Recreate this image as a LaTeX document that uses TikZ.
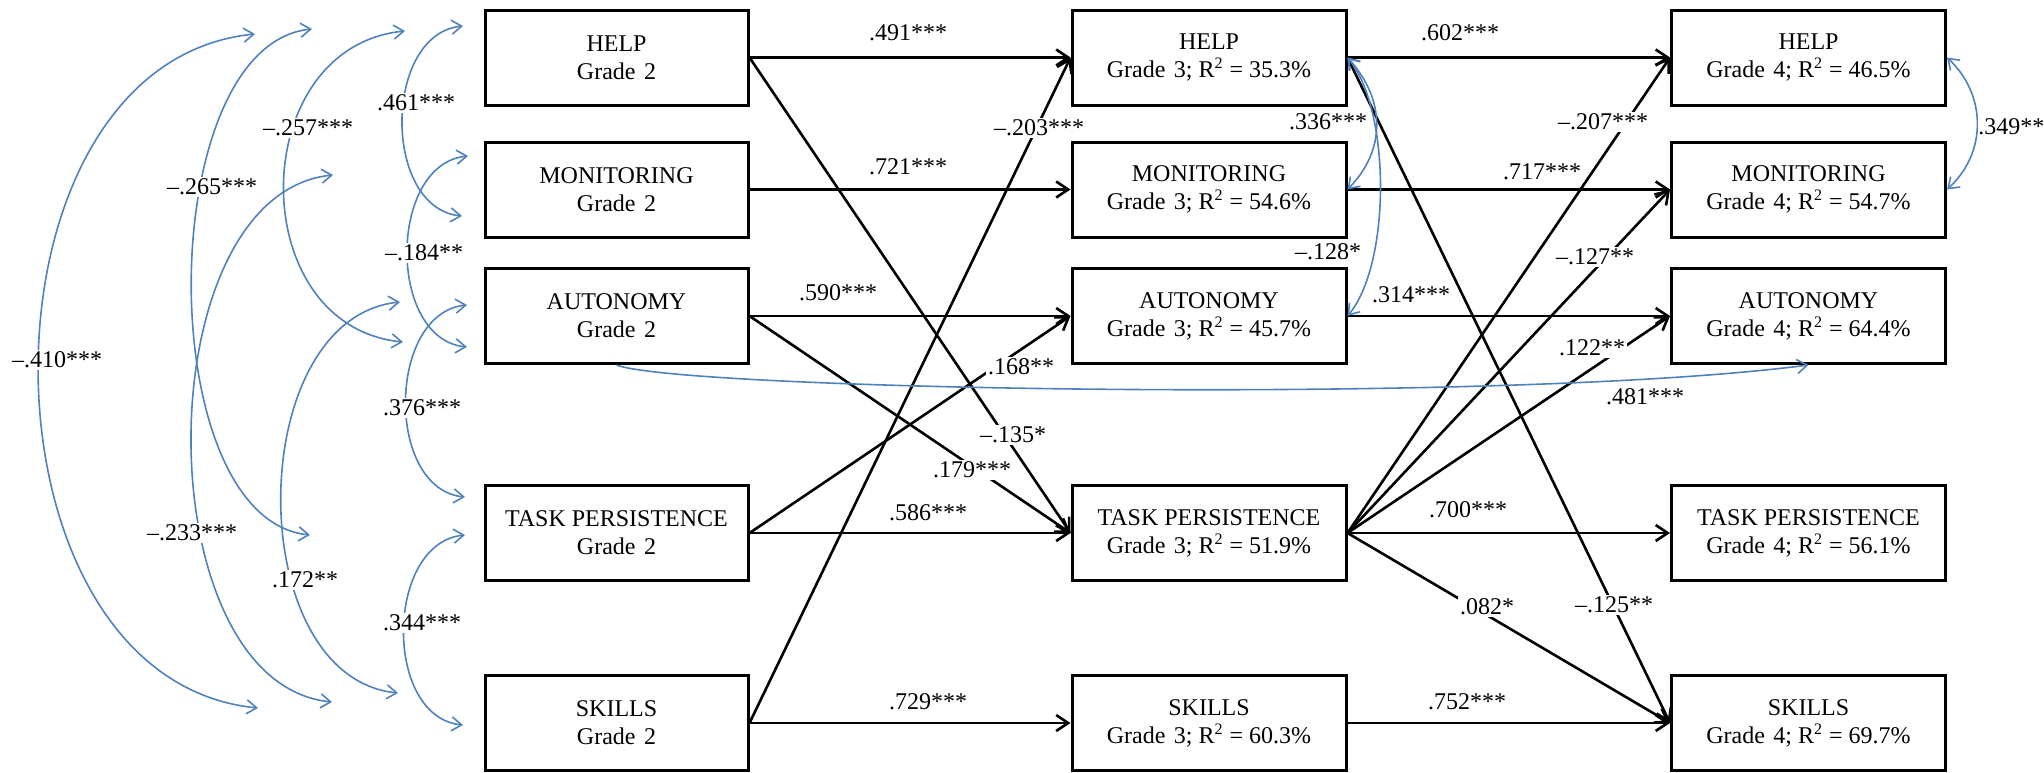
\documentclass[tikz,border=0pt]{standalone}
\usepackage{fontspec}
\setmainfont{Liberation Serif}
\usetikzlibrary{arrows.meta}
\definecolor{corblue}{RGB}{79,129,189}
\begin{document}
\begin{tikzpicture}[x=0.5pt,y=-0.5pt,
  box/.style={draw, line width=1.5pt, minimum height=47.5pt, align=center, inner sep=0pt, font=\fontsize{12}{14}\selectfont},
  gtwo/.style={box, minimum width=131.5pt},
  gthree/.style={box, minimum width=137pt},
  patharrow/.style={line width=1.3pt, -{Straight Barb[length=6pt,width=8pt]}},
  corr/.style={draw=corblue, line width=0.8pt, {Straight Barb[length=5pt,width=7pt]}-{Straight Barb[length=5pt,width=7pt]}},
  corrone/.style={draw=corblue, line width=0.8pt, -{Straight Barb[length=5pt,width=7pt]}},
  lab/.style={fill=white, inner sep=1pt, font=\fontsize{12}{14}\selectfont},
]
\useasboundingbox (0,0) rectangle (2044,772);

% ---- boxes ----
\node[gtwo] (h2) at (616.5,57.5) {HELP\\Grade\hspace{0.35em}2};
\node[gtwo] (m2) at (616.5,189.5) {MONITORING\\Grade\hspace{0.35em}2};
\node[gtwo] (a2) at (616.5,316) {AUTONOMY\\Grade\hspace{0.35em}2};
\node[gtwo] (t2) at (616.5,533) {TASK PERSISTENCE\\Grade\hspace{0.35em}2};
\node[gtwo] (s2) at (616.5,723) {SKILLS\\Grade\hspace{0.35em}2};

\node[gthree] (h3) at (1209,57.5) {HELP\\Grade\hspace{0.35em}3; R\textsuperscript{2} = 35.3\%};
\node[gthree] (m3) at (1209,189.5) {MONITORING\\Grade\hspace{0.35em}3; R\textsuperscript{2} = 54.6\%};
\node[gthree] (a3) at (1209,316) {AUTONOMY\\Grade\hspace{0.35em}3; R\textsuperscript{2} = 45.7\%};
\node[gthree] (t3) at (1209,533) {TASK PERSISTENCE\\Grade\hspace{0.35em}3; R\textsuperscript{2} = 51.9\%};
\node[gthree] (s3) at (1209,723) {SKILLS\\Grade\hspace{0.35em}3; R\textsuperscript{2} = 60.3\%};

\node[gthree] (h4) at (1808.5,57.5) {HELP\\Grade\hspace{0.35em}4; R\textsuperscript{2} = 46.5\%};
\node[gthree] (m4) at (1808.5,189.5) {MONITORING\\Grade\hspace{0.35em}4; R\textsuperscript{2} = 54.7\%};
\node[gthree] (a4) at (1808.5,316) {AUTONOMY\\Grade\hspace{0.35em}4; R\textsuperscript{2} = 64.4\%};
\node[gthree] (t4) at (1808.5,533) {TASK PERSISTENCE\\Grade\hspace{0.35em}4; R\textsuperscript{2} = 56.1\%};
\node[gthree] (s4) at (1808.5,723) {SKILLS\\Grade\hspace{0.35em}4; R\textsuperscript{2} = 69.7\%};

% ---- black paths grade 2 -> 3 ----
\draw[patharrow] (h2.east) -- (h3.west);
\draw[patharrow] (m2.east) -- (m3.west);
\draw[patharrow] (a2.east) -- (a3.west);
\draw[patharrow] (t2.east) -- (t3.west);
\draw[patharrow] (s2.east) -- (s3.west);
\draw[patharrow] (h2.east) -- (t3.west);
\draw[patharrow] (a2.east) -- (t3.west);
\draw[patharrow] (t2.east) -- (a3.west);
\draw[patharrow] (s2.east) -- (h3.west);

% ---- black paths grade 3 -> 4 ----
\draw[patharrow] (h3.east) -- (h4.west);
\draw[patharrow] (m3.east) -- (m4.west);
\draw[patharrow] (a3.east) -- (a4.west);
\draw[patharrow] (t3.east) -- (t4.west);
\draw[patharrow] (s3.east) -- (s4.west);
\draw[patharrow] (h3.east) -- (s4.west);
\draw[patharrow] (t3.east) -- (h4.west);
\draw[patharrow] (t3.east) -- (m4.west);
\draw[patharrow] (t3.east) -- (a4.west);
\draw[patharrow] (t3.east) -- (s4.west);

% ---- blue correlations grade 2 ----
\coordinate (c1a) at (255,34);  \coordinate (c1b) at (258,708);
\coordinate (c2a) at (312,29);  \coordinate (c2b) at (310,535);
\coordinate (c3a) at (405,31);  \coordinate (c3b) at (403,342);
\coordinate (c4a) at (333,175); \coordinate (c4b) at (332,702);
\coordinate (c5a) at (400,302); \coordinate (c5b) at (398,693);
\coordinate (c6a) at (463,26);  \coordinate (c6b) at (462,216);
\coordinate (c7a) at (468,156); \coordinate (c7b) at (467,347);
\coordinate (c8a) at (467,305); \coordinate (c8b) at (465,497);
\coordinate (c9a) at (465,535); \coordinate (c9b) at (463,725);

\draw[corr] (c1a) .. controls (-35,63) and (-33,679) .. (c1b);
\draw[corr] (c2a) .. controls (153,45) and (151,519) .. (c2b);
\draw[corr] (c3a) .. controls (245,47) and (243,326) .. (c3b);
\draw[corr] (c4a) .. controls (145,194) and (144,683) .. (c4b);
\draw[corr] (c5a) .. controls (243,318) and (241,677) .. (c5b);
\draw[corr] (c6a) .. controls (383,34) and (382,208) .. (c6b);
\draw[corr] (c7a) .. controls (388,164) and (387,339) .. (c7b);
\draw[corr] (c8a) .. controls (387,313) and (385,489) .. (c8b);
\draw[corr] (c9a) .. controls (385,543) and (383,717) .. (c9b);

% ---- blue correlations grade 3 / 4 ----
\draw[corr] (h3.east) .. controls (1386,100) and (1386,150) .. (m3.east);
\draw[corr] (h3.east) .. controls (1391,110) and (1391,264) .. (a3.east);
\draw[corr] (h4.east) .. controls (1987,95) and (1987,153) .. (m4.east);
\draw[corrone] (a2.south) .. controls (680,390) and (1500,405) .. (a4.south);

% ---- labels ----
\node[lab] (l01) at (57,360) {–.410***};
\node[lab] (l02) at (212,187) {–.265***};
\node[lab] (l03) at (308,128) {–.257***};
\node[lab] (l04) at (192,533) {–.233***};
\node[lab] (l05) at (305,580) {.172**};
\node[lab] (l06) at (416,103) {.461***};
\node[lab] (l07) at (424,253) {–.184**};
\node[lab] (l08) at (422,408) {.376***};
\node[lab] (l09) at (422,623) {.344***};

\node[lab] (l10) at (908,33) {.491***};
\node[lab] (l11) at (908,167) {.721***};
\node[lab] (l12) at (838,293) {.590***};
\node[lab] (l13) at (928,513) {.586***};
\node[lab] (l14) at (928,702) {.729***};
\node[lab] (l15) at (1039,128) {–.203***};
\node[lab] (l16) at (1021,367) {.168**};
\node[lab] (l17) at (1013,435) {–.135*};
\node[lab] (l18) at (972,470) {.179***};

\node[lab] (l19) at (1460,33) {.602***};
\node[lab] (l20) at (1542,172) {.717***};
\node[lab] (l21) at (1411,295) {.314***};
\node[lab] (l22) at (1468,510) {.700***};
\node[lab] (l23) at (1467,702) {.752***};
\node[lab] (l24) at (1603,122) {–.207***};
\node[lab] (l25) at (1595,257) {–.127**};
\node[lab] (l26) at (1592,348) {.122**};
\node[lab] (l27) at (1487,607) {.082*};
\node[lab] (l28) at (1614,605) {–.125**};
\node[lab] (l29) at (1645,397) {.481***};
\node[lab] (l30) at (1328,122) {.336***};
\node[lab] (l31) at (1328,252) {–.128*};
\node[lab, anchor=west, inner sep=0pt] (l32) at (1978,127) {.349**};
\end{tikzpicture}
\end{document}
